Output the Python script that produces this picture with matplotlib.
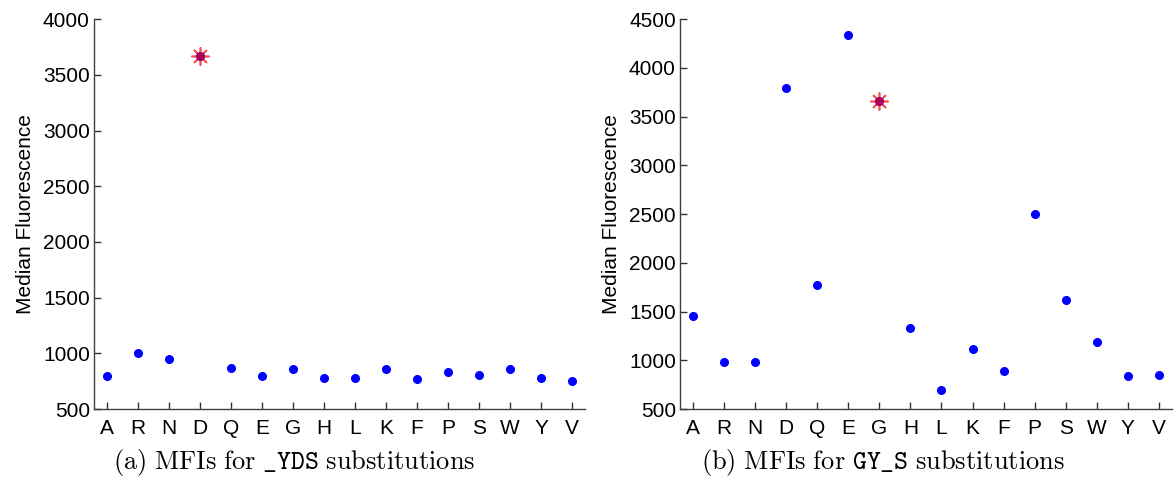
import matplotlib
matplotlib.use("Agg")
import matplotlib.pyplot as plt

residues = ['A', 'R', 'N', 'D', 'Q', 'E', 'G', 'H', 'L', 'K', 'F', 'P', 'S', 'W', 'Y', 'V']

# median fluorescence per substitution
mfi_yds = [800, 1005, 945, 3670, 868, 800, 862, 780, 780, 856, 770, 832, 805, 855, 775, 748]
mfi_gys = [1455, 982, 978, 3790, 1775, 4340, 3665, 1335, 695, 1115, 885, 2500, 1620, 1190, 842, 852]

# wild-type residue for each library (highlighted with a star)
wt_yds = 'D'
wt_gys = 'G'

yticks_a = [500, 1000, 1500, 2000, 2500, 3000, 3500, 4000]
yticks_b = [500, 1000, 1500, 2000, 2500, 3000, 3500, 4000, 4500]

captions = [r"$\mathrm{(a)\ MFIs\ for\ }\mathtt{\_YDS}\mathrm{\ substitutions}$",
            r"$\mathrm{(b)\ MFIs\ for\ }\mathtt{GY\_S}\mathrm{\ substitutions}$"]

plt.rcParams['font.family'] = ['Liberation Sans', 'DejaVu Sans']
plt.rcParams['mathtext.fontset'] = 'cm'

fig = plt.figure(figsize=(11.75, 4.96), dpi=100)
ax_a = fig.add_axes([0.080, 0.1754, 0.418, 0.786])
ax_b = fig.add_axes([0.5787, 0.1754, 0.4187, 0.786])


def draw_panel(ax, values, wt, yticks):
    x = list(range(1, len(residues) + 1))
    ax.plot(x, values, linestyle='none', marker='o', color='blue', ms=5.5, mec='blue')
    wi = residues.index(wt)
    ax.plot(x[wi], values[wi], linestyle='none', marker=(8, 2, 0), color='red',
            ms=13, mew=1.2, alpha=0.7)
    ax.set_xlim(0.58, len(residues) + 0.42)
    ax.set_ylim(yticks[0], yticks[-1])
    ax.set_xticks(x)
    ax.set_xticklabels(residues)
    ax.set_yticks(yticks)
    ax.spines['top'].set_visible(False)
    ax.spines['right'].set_visible(False)
    for s in ['left', 'bottom']:
        ax.spines[s].set_color('0.25')
        ax.spines[s].set_linewidth(1.0)
    ax.tick_params(direction='in', length=5, width=1, color='0.2', labelsize=15)
    ax.tick_params(axis='x', pad=7)
    ax.tick_params(axis='y', pad=3)
    ax.set_ylabel('Median Fluorescence', fontsize=15, labelpad=6)


draw_panel(ax_a, mfi_yds, wt_yds, yticks_a)
draw_panel(ax_b, mfi_gys, wt_gys, yticks_b)

# sub-figure captions, centred under each half of the page
fig.text(0.25, 0.068, captions[0], ha='center', va='center', fontsize=19)
fig.text(0.751, 0.068, captions[1], ha='center', va='center', fontsize=19)

fig.savefig('out.png', dpi=100)
